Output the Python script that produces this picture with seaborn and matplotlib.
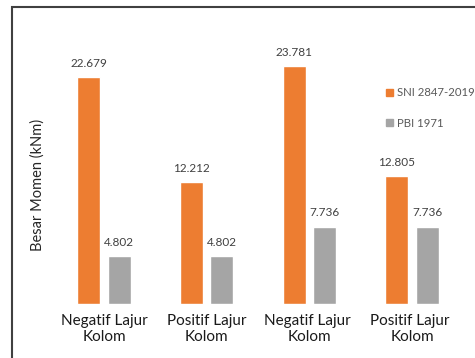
import matplotlib
matplotlib.use("Agg")
import matplotlib.pyplot as plt
import seaborn as sns
import pandas as pd
from matplotlib.patches import Rectangle, Patch

categories = ["Negatif Lajur\nKolom", "Positif Lajur\nKolom", "Negatif Lajur \nKolom", "Positif Lajur \nKolom"]
series_names = ["SNI 2847-2019", "PBI 1971"]
sni_values = [22.679, 12.212, 23.781, 12.805]
pbi_values = [4.802, 4.802, 7.736, 7.736]
colors = ["#ED7D31", "#A5A5A5"]

df = pd.DataFrame({
    "cat": categories * 2,
    "series": [series_names[0]] * 4 + [series_names[1]] * 4,
    "val": sni_values + pbi_values,
})

sns.set_theme(style="white")
plt.rcParams["font.family"] = ["Lato", "DejaVu Sans"]

W, H = 475, 358
fig = plt.figure(figsize=(W / 100, H / 100), dpi=100)
ax = fig.add_axes([52.7 / W, 54 / H, 410.7 / W, 270 / H])

sns.barplot(data=df, x="cat", y="val", hue="series", palette=colors,
            width=0.59, gap=0.24, ax=ax, legend=False, saturation=1)
ax.set_xlim(-0.5, 3.5)
ax.set_ylim(0, 27)
for c in ax.containers:
    ax.bar_label(c, labels=[f"{v:.3f}" for v in c.datavalues], padding=6,
                 fontsize=8.5, color="#404040")
ax.set_yticks([])
ax.set_xlabel("")
ax.set_ylabel("")
ax.tick_params(axis="x", length=0, pad=7, labelsize=11, labelcolor="#1a1a1a")
for s in ax.spines.values():
    s.set_visible(False)

fig.text(38 / W, 1 - 185 / H, "Besar Momen (kNm)", rotation=90, ha="center",
         va="center", fontsize=10.5, color="#262626")

handles = [Patch(color=colors[0]), Patch(color=colors[1])]
fig.legend(handles, series_names, loc="upper left",
           bbox_to_anchor=(376 / W, 1 - 77 / H), frameon=False, fontsize=8.2,
           labelcolor="#595959", handlelength=0.55, handleheight=0.55,
           handletextpad=0.4, labelspacing=1.7)

fig.patches.append(Rectangle((12 / W, -0.1), 1.2, (1 - 7 / H) + 0.1,
                             transform=fig.transFigure, fill=False,
                             edgecolor="#404040", linewidth=1.5))

fig.savefig("out.png", dpi=100)
